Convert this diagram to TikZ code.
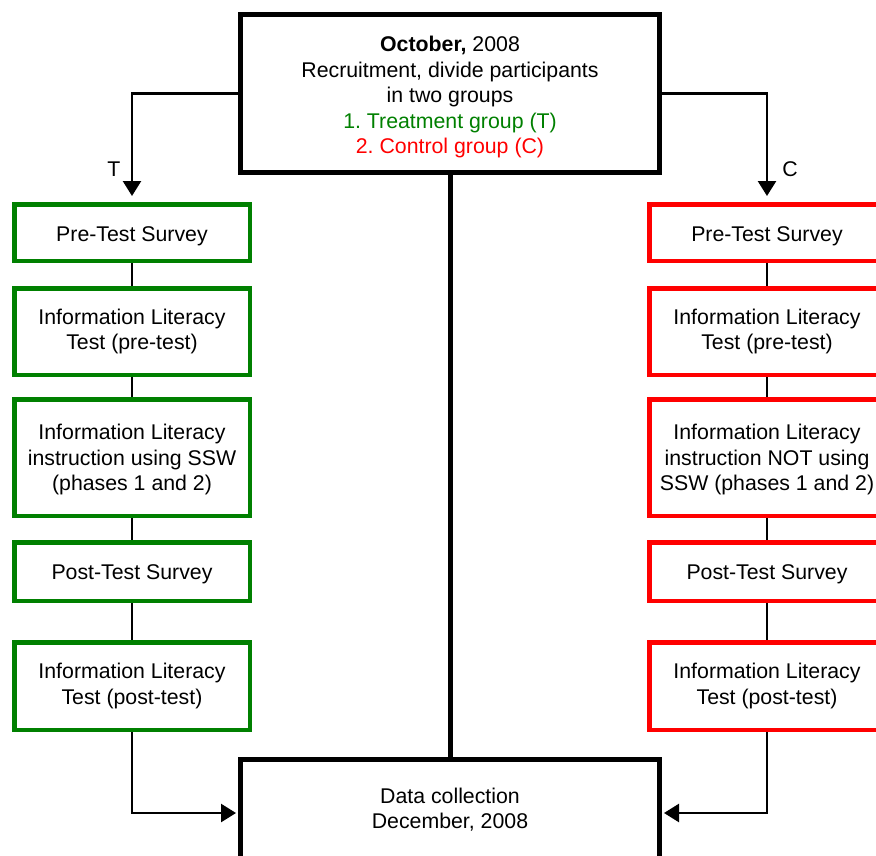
\documentclass[tikz,border=0pt]{standalone}
\usepackage{fontspec}
\setmainfont{Liberation Sans}
\usetikzlibrary{arrows.meta}
\definecolor{tgreen}{RGB}{0,128,0}
\definecolor{cred}{RGB}{255,0,0}
\newcommand\lowerby[1]{\rule{0pt}{#1}}
\newcommand\raiseby[1]{\rule[-#1]{0pt}{#1}}
\begin{document}
\frenchspacing
\begin{tikzpicture}[x=1pt,y=-1pt,
  txt/.style={font=\fontsize{21.3}{25.5}\selectfont\frenchspacing, align=center, text=black},
  mainbox/.style={txt, draw=black, fill=white, line width=5pt, minimum width=419pt, inner sep=0pt},
  gbox/.style={txt, draw=tgreen, fill=white, line width=4.5pt, minimum width=235.5pt, inner sep=0pt},
  rbox/.style={txt, draw=cred, fill=white, line width=4.5pt, minimum width=235.5pt, inner sep=0pt},
  link/.style={line width=2pt},
  arr/.style={line width=2.5pt, -{Triangle[width=18pt,length=15pt]}},
  lbl/.style={font=\fontsize{21.3}{25.5}\selectfont}
]
\useasboundingbox (0,0) rectangle (876,855);
\clip (0,0) rectangle (876,855);

% main boxes
\node[mainbox, minimum height=158pt] (top) at (450,93.5)
  {\lowerby{22.5pt}\textbf{October,} 2008\\Recruitment, divide participants\\in two groups\\
   \textcolor{tgreen}{1. Treatment group (T)}\\\textcolor{cred}{2. Control group (C)}};
\node[mainbox, minimum height=107pt] (bot) at (450,813)
  {Data collection\\December, 2008\raiseby{9.5pt}};
\draw[line width=5pt] (top.south) -- (bot.north);

% treatment column
\node[gbox, minimum height=56.5pt] (g1) at (132,232.5) {\lowerby{21.5pt}Pre-Test Survey};
\node[gbox, minimum height=86.5pt] (g2) at (132,331.5) {Information Literacy\\Test (pre-test)};
\node[gbox, minimum height=116.5pt] (g3) at (132,457.5) {\lowerby{19.5pt}Information Literacy\\instruction using SSW\\(phases 1 and 2)};
\node[gbox, minimum height=58.5pt] (g4) at (132,571.5) {\lowerby{20.5pt}Post-Test Survey};
\node[gbox, minimum height=87.5pt] (g5) at (132,686) {Information Literacy\\Test (post-test)};

% control column
\node[rbox, minimum height=56.5pt] (r1) at (767,232.5) {\lowerby{21.5pt}Pre-Test Survey};
\node[rbox, minimum height=86.5pt] (r2) at (767,331.5) {Information Literacy\\Test (pre-test)};
\node[rbox, minimum height=116.5pt] (r3) at (767,457.5) {\lowerby{19.5pt}Information Literacy\\instruction NOT using\\SSW (phases 1 and 2)};
\node[rbox, minimum height=58.5pt] (r4) at (767,571.5) {\lowerby{20.5pt}Post-Test Survey};
\node[rbox, minimum height=87.5pt] (r5) at (767,686) {Information Literacy\\Test (post-test)};

% links within columns
\draw[link] (g1) -- (g2);
\draw[link] (g2) -- (g3);
\draw[link] (g3) -- (g4);
\draw[link] (g4) -- (g5);
\draw[link] (r1) -- (r2);
\draw[link] (r2) -- (r3);
\draw[link] (r3) -- (r4);
\draw[link] (r4) -- (r5);

% arrows from top box
\draw[arr, shorten >=6pt] (top.west) -| (g1.north);
\draw[arr, shorten >=6pt] (top.east) -| (r1.north);
\node[lbl] (tl) at (114,169) {T};
\node[lbl] (cl) at (790,169) {C};

% arrows into bottom box
\draw[arr, shorten >=2pt] (g5.south) |- (bot.west);
\draw[arr, shorten >=2pt] (r5.south) |- (bot.east);
\end{tikzpicture}
\end{document}
